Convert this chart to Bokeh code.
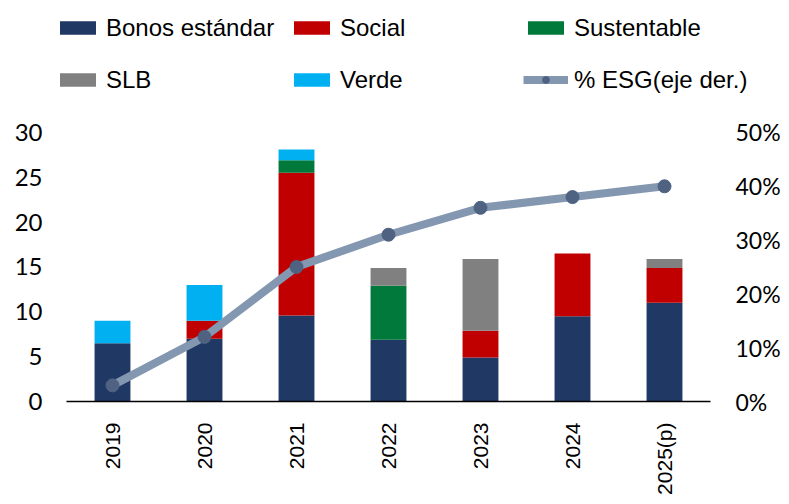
import numpy as np
from bokeh.plotting import figure
from bokeh.models import (Range1d, LinearAxis, FixedTicker,
                          NumeralTickFormatter, Legend, LegendItem)
from bokeh.embed import file_html
from bokeh.resources import INLINE

years = ["2019", "2020", "2021", "2022", "2023", "2024", "2025(p)"]
estandar = [6.5, 7.0, 9.6, 6.9, 4.9, 9.5, 11.0]
social = [0.0, 2.0, 15.9, 0.0, 3.0, 7.0, 3.9]
sustentable = [0.0, 0.0, 1.4, 6.0, 0.0, 0.0, 0.0]
slb = [0.0, 0.0, 0.0, 2.0, 8.0, 0.0, 1.0]
verde = [2.5, 4.0, 1.2, 0.0, 0.0, 0.0, 0.0]
pct_esg = [0.03, 0.12, 0.25, 0.31, 0.36, 0.38, 0.40]
left_ticks = [0, 5, 10, 15, 20, 25, 30]
right_ticks = [0, 0.1, 0.2, 0.3, 0.4, 0.5]

series = ["estandar", "social", "sustentable", "slb", "verde"]
labels = ["Bonos estándar", "Social", "Sustentable", "SLB", "Verde"]
esg_label = "% ESG(eje der.)"
colors = ["#203864", "#C00000", "#00793A", "#808080", "#00B0F0"]
LINE_C = "#8497B0"
MARK_C = "#4F6282"

idx = list(range(len(years)))
data = dict(x=idx, estandar=estandar, social=social, sustentable=sustentable,
            slb=slb, verde=verde, pct=pct_esg)

# Frame is made larger than the plotting area so that the legend (drawn inside
# the frame) is not clipped; the visible scale is kept by the ranges below.
N = len(years)
PX_UNIT = 92.0
XSTART = -0.5 - 16 / PX_UNIT
XEND = N - 0.5 + 50 / PX_UNIT
YMAX = 44.72

p = figure(x_range=Range1d(XSTART, XEND), y_range=Range1d(0, YMAX),
           width=789, height=504, output_backend="svg",
           toolbar_location=None, min_border_left=50, min_border_right=29,
           min_border_top=0, min_border_bottom=103)
p.extra_y_ranges = {"pct": Range1d(0, YMAX / 60.0)}
p.outline_line_color = None
p.xgrid.visible = False
p.ygrid.visible = False

bars = p.vbar_stack(series, x="x", width=0.39, color=colors, source=data,
                    line_color=None)
ln = p.line("x", "pct", source=data, y_range_name="pct", line_width=8,
            line_color=LINE_C, line_join="round")
mk = p.scatter("x", "pct", source=data, y_range_name="pct", size=13,
               fill_color=MARK_C, line_color=MARK_C)

tick_font = "Lato"
ya = p.yaxis[0]
ya.ticker = FixedTicker(ticks=left_ticks)
ya.axis_line_color = None
ya.major_tick_line_color = None
ya.minor_tick_line_color = None
ya.major_label_text_font = tick_font
ya.major_label_text_font_size = "24px"
ya.major_label_text_color = "#000000"
ya.major_label_standoff = 2

ra = LinearAxis(y_range_name="pct", ticker=FixedTicker(ticks=right_ticks),
                formatter=NumeralTickFormatter(format="0%"))
ra.axis_line_color = None
ra.major_tick_line_color = None
ra.minor_tick_line_color = None
ra.major_label_text_font = tick_font
ra.major_label_text_font_size = "23px"
ra.major_label_text_color = "#000000"
ra.major_label_standoff = -31
p.add_layout(ra, "right")

xa = p.xaxis[0]
xa.ticker = FixedTicker(ticks=idx)
xa.major_label_overrides = {i: y for i, y in zip(idx, years)}
xa.bounds = (-0.5, N - 0.5)
xa.axis_line_color = "#000000"
xa.axis_line_width = 1.5
xa.major_tick_line_color = None
xa.minor_tick_line_color = None
xa.major_label_orientation = np.pi / 2
xa.major_label_text_font = "Liberation Sans"
xa.major_label_text_font_size = "21px"
xa.major_label_text_color = "#000000"
xa.major_label_standoff = 15

items = [LegendItem(label=labels[i], renderers=[bars[i]]) for i in range(5)]
items.append(LegendItem(label=esg_label, renderers=[ln, mk]))
leg = Legend(items=items, ncols=3, orientation="horizontal",
             location=(5, 297), glyph_width=45, glyph_height=17,
             label_height=49, label_width=180, label_standoff=6, spacing=3,
             padding=0, margin=0, border_line_color=None, background_fill_alpha=0,
             label_text_font="Liberation Sans", label_text_font_size="24px",
             label_text_color="#000000", label_text_baseline="middle")
p.add_layout(leg)

open("out.html", "w").write(file_html(p, INLINE))
